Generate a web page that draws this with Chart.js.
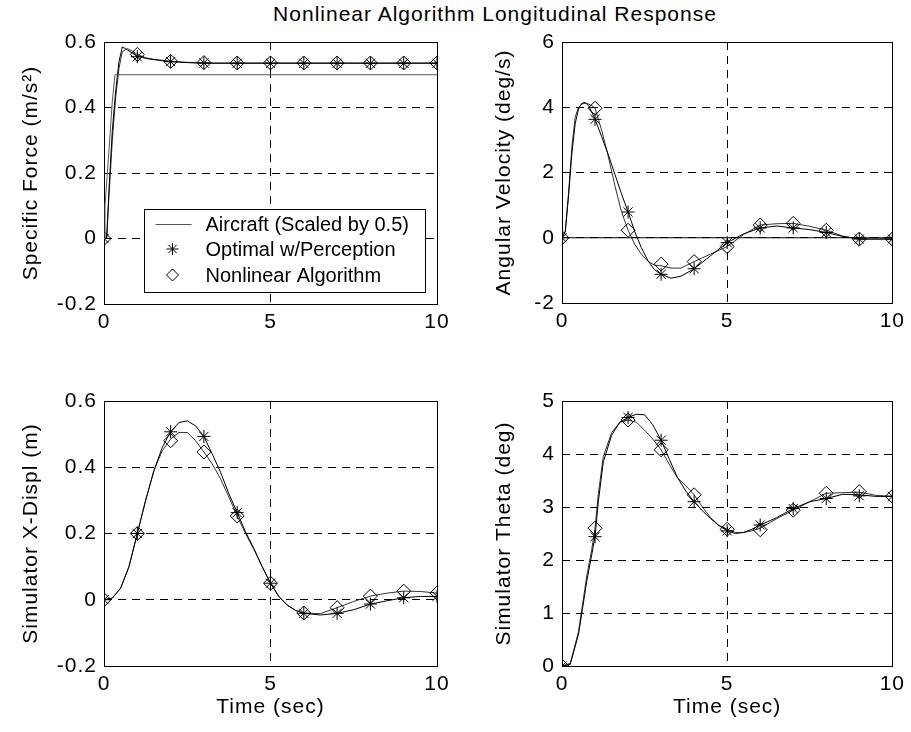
<!DOCTYPE html>
<html>
<head>
<meta charset="utf-8">
<script src="https://cdn.jsdelivr.net/npm/chart.js@4.4.1/dist/chart.umd.min.js"></script>
<style>
  html, body { margin: 0; padding: 0; background: #fff; overflow: hidden; }
  #wrap { position: relative; width: 911px; height: 732px; }
  #wrap canvas { position: absolute; left: 0; top: 0; }
  #title { position: absolute; top: 2px; left: 495px; transform: translateX(-50%); white-space: nowrap;
           font: 21px 'Liberation Sans', Arial, sans-serif; letter-spacing: 1px; line-height: 24px; color: #000; }
</style>
</head>
<body>
<div id="wrap">
  <div id="title">Nonlinear Algorithm Longitudinal Response</div>
  <canvas id="tl" width="911" height="732"></canvas>
  <canvas id="tr" width="911" height="732"></canvas>
  <canvas id="bl" width="911" height="732"></canvas>
  <canvas id="br" width="911" height="732"></canvas>
</div>
<script>
// sample times of the marker series (one marker per second)
const markT = [0, 1, 2, 3, 4, 5, 6, 7, 8, 9, 10];
const xTicks = [0, 5, 10];

const seriesNames = ['Aircraft (Scaled by 0.5)', 'Optimal w/Perception', 'Nonlinear Algorithm'];

// Specific force
const tlYTicks = [-0.2, 0, 0.2, 0.4, 0.6];
const acT = [0, 0.03, 0.15, 0.25, 0.33, 10];
const acForce = [0, 0.1, 0.27, 0.42, 0.5, 0.5];
const tlT = [0, 0.08, 0.15, 0.25, 0.35, 0.45, 0.55, 0.7, 0.85, 1, 1.25, 1.5, 2, 2.5, 3, 4, 5, 6, 7, 8, 9, 10];
const tlOpt = [0, 0.0, 0.15, 0.33, 0.45, 0.54, 0.585, 0.576, 0.566, 0.556, 0.55, 0.546, 0.54, 0.537, 0.535, 0.535, 0.535, 0.535, 0.535, 0.535, 0.535, 0.535];
const tlNon = [0, 0.0, 0.13, 0.3, 0.43, 0.52, 0.57, 0.58, 0.572, 0.562, 0.552, 0.547, 0.541, 0.538, 0.536, 0.536, 0.536, 0.536, 0.536, 0.536, 0.536, 0.536];
const tlOptMarks = [0, 0.555, 0.54, 0.536, 0.535, 0.535, 0.535, 0.535, 0.535, 0.535, 0.535];
const tlNonMarks = [0, 0.562, 0.541, 0.537, 0.536, 0.536, 0.536, 0.536, 0.536, 0.536, 0.536];

// Angular velocity
const trYTicks = [-2, 0, 2, 4, 6];
const acRateT = [0, 10];
const acRate = [0, 0];
const trT = [0, 0.1, 0.2, 0.3, 0.4, 0.5, 0.6, 0.7, 0.8, 0.9, 1, 1.2, 1.4, 1.6, 1.8, 2, 2.2, 2.4, 2.6, 2.8, 3, 3.3, 3.6, 4, 4.5, 5, 5.5, 6, 6.5, 7, 7.5, 8, 8.5, 9, 10];
const trOpt = [0, 0.2, 1.3, 2.6, 3.5, 3.95, 4.12, 4.15, 4.05, 3.85, 3.63, 3.1, 2.55, 1.95, 1.35, 0.79, 0.2, -0.3, -0.7, -0.98, -1.12, -1.24, -1.18, -0.95, -0.55, -0.15, 0.12, 0.3, 0.36, 0.3, 0.25, 0.16, 0.04, -0.04, -0.04];
const trNon = [0, 0.2, 1.4, 2.8, 3.7, 4.0, 4.1, 4.12, 4.1, 4.05, 3.97, 3.3, 2.5, 1.6, 0.8, 0.23, -0.2, -0.5, -0.72, -0.84, -0.86, -0.93, -0.93, -0.73, -0.5, -0.27, 0.1, 0.39, 0.43, 0.44, 0.35, 0.23, 0.05, -0.04, -0.04];
const trOptMarks = [0, 3.63, 0.79, -1.12, -0.95, -0.15, 0.3, 0.3, 0.16, -0.04, -0.04];
const trNonMarks = [0, 3.97, 0.23, -0.81, -0.73, -0.27, 0.39, 0.44, 0.23, -0.04, -0.04];

// Simulator X displacement
const blYTicks = [-0.2, 0, 0.2, 0.4, 0.6];
const blT = [0, 0.25, 0.5, 0.75, 1, 1.25, 1.5, 1.75, 2, 2.25, 2.5, 2.75, 3, 3.25, 3.5, 3.75, 4, 4.25, 4.5, 4.75, 5, 5.25, 5.5, 5.75, 6, 6.5, 7, 7.5, 8, 8.5, 9, 9.5, 10];
const blOpt = [0, 0.005, 0.035, 0.1, 0.2, 0.3, 0.39, 0.46, 0.507, 0.535, 0.54, 0.525, 0.493, 0.44, 0.385, 0.32, 0.263, 0.205, 0.155, 0.1, 0.05, 0.01, -0.016, -0.032, -0.041, -0.046, -0.041, -0.03, -0.013, -0.003, 0.006, 0.01, 0.01];
const blNon = [0, 0.005, 0.035, 0.1, 0.2, 0.3, 0.39, 0.45, 0.485, 0.505, 0.505, 0.48, 0.446, 0.41, 0.365, 0.31, 0.253, 0.2, 0.152, 0.1, 0.05, 0.01, -0.016, -0.032, -0.04, -0.042, -0.024, -0.005, 0.011, 0.02, 0.026, 0.025, 0.02];
const blOptMarks = [0, 0.2, 0.507, 0.493, 0.263, 0.05, -0.041, -0.041, -0.013, 0.006, 0.01];
const blNonMarks = [0, 0.2, 0.48, 0.446, 0.253, 0.05, -0.04, -0.024, 0.011, 0.026, 0.02];

// Simulator theta
const brYTicks = [0, 1, 2, 3, 4, 5];
const brT = [0, 0.25, 0.5, 0.75, 0.9, 1, 1.1, 1.25, 1.5, 1.75, 2, 2.25, 2.5, 2.75, 3, 3.25, 3.5, 3.75, 4, 4.25, 4.5, 4.75, 5, 5.25, 5.5, 5.75, 6, 6.5, 7, 7.5, 8, 8.5, 9, 9.5, 10];
const brOpt = [0, 0.03, 0.6, 1.6, 2.1, 2.44, 3.1, 3.85, 4.35, 4.6, 4.69, 4.75, 4.74, 4.55, 4.26, 3.9, 3.55, 3.3, 3.1, 2.93, 2.78, 2.65, 2.55, 2.5, 2.52, 2.58, 2.66, 2.8, 2.97, 3.1, 3.16, 3.24, 3.23, 3.2, 3.2];
const brNon = [0, 0.05, 0.65, 1.7, 2.2, 2.6, 3.25, 3.95, 4.4, 4.6, 4.64, 4.6, 4.45, 4.28, 4.08, 3.8, 3.55, 3.4, 3.23, 3.0, 2.8, 2.65, 2.58, 2.52, 2.52, 2.55, 2.6, 2.78, 2.94, 3.1, 3.26, 3.27, 3.28, 3.22, 3.2];
const brOptMarks = [0, 2.44, 4.69, 4.26, 3.1, 2.55, 2.66, 2.97, 3.16, 3.21, 3.2];
const brNonMarks = [0, 2.6, 4.64, 4.08, 3.23, 2.58, 2.57, 2.94, 3.26, 3.29, 3.2];

const FONT = "'Liberation Sans', Arial, Helvetica, sans-serif";

function pts(t, v) {
    return t.map((x, i) => ({x: x, y: v[i]}));
}

function lineSet(label, t, v, color) {
    return {label: label, data: pts(t, v), borderColor: color, borderWidth: 1,
            pointRadius: 0, fill: false, showLine: true};
}

function markSet(label, v, style) {
    return {label: label, data: pts(markT, v), showLine: false, pointStyle: style,
            pointRadius: style === 'star' ? 6.5 : 7, pointBorderColor: '#000',
            pointBackgroundColor: 'rgba(0,0,0,0)', pointBorderWidth: 1, borderColor: '#000'};
}

// hide grid lines that fall on the frame
function inner(min, max) {
    return c => (c.tick && (Math.abs(c.tick.value - min) < 1e-9 || Math.abs(c.tick.value - max) < 1e-9)) ? 0 : 1;
}

const spacing = {
    id: 'spacing',
    beforeLayout(chart) { chart.ctx.letterSpacing = '1px'; },
    beforeDraw(chart) { chart.ctx.letterSpacing = '1px'; }
};

const frame = {
    id: 'frame',
    beforeDatasetsDraw(chart) {
        const {ctx, chartArea: a} = chart;
        ctx.save();
        ctx.strokeStyle = '#000';
        ctx.lineWidth = 1;
        ctx.strokeRect(Math.round(a.left) + 0.5, Math.round(a.top) + 0.5,
                       Math.round(a.right - a.left), Math.round(a.bottom - a.top));
        ctx.restore();
    }
};

function drawMarker(ctx, style, x, y, r) {
    ctx.beginPath();
    if (style === 'star') {
        const d = r * Math.SQRT1_2;
        ctx.moveTo(x, y - r); ctx.lineTo(x, y + r);
        ctx.moveTo(x - r, y); ctx.lineTo(x + r, y);
        ctx.moveTo(x - d, y - d); ctx.lineTo(x + d, y + d);
        ctx.moveTo(x - d, y + d); ctx.lineTo(x + d, y - d);
    } else {
        ctx.moveTo(x, y - r); ctx.lineTo(x + r, y); ctx.lineTo(x, y + r); ctx.lineTo(x - r, y);
        ctx.closePath();
    }
    ctx.stroke();
}

const boxLegend = {
    id: 'boxLegend',
    afterDraw(chart) {
        const {ctx, chartArea: a} = chart;
        const items = chart.data.datasets.slice(0, 3);
        ctx.save();
        ctx.letterSpacing = '0px';
        ctx.font = '20px ' + FONT;
        const textW = Math.max(...items.map(d => ctx.measureText(d.label).width));
        const w = Math.round(61 + textW + 17), h = 83;
        const x0 = Math.round(a.right - 12 - w) + 0.5, y0 = Math.round(a.bottom - 12 - h) + 0.5;
        ctx.fillStyle = '#fff';
        ctx.fillRect(x0, y0, w, h);
        ctx.strokeStyle = '#000';
        ctx.lineWidth = 1;
        ctx.strokeRect(x0, y0, w, h);
        items.forEach((d, i) => {
            const y = Math.round(y0 + 14 + i * 25.5);
            if (d.showLine) {
                ctx.strokeStyle = d.borderColor;
                ctx.beginPath();
                ctx.moveTo(x0 + 11, y + 0.5);
                ctx.lineTo(x0 + 47, y + 0.5);
                ctx.stroke();
            } else {
                ctx.strokeStyle = '#000';
                drawMarker(ctx, d.pointStyle, x0 + 28, y, 6);
            }
            ctx.fillStyle = '#000';
            ctx.textBaseline = 'middle';
            ctx.fillText(d.label, x0 + 61, y + 1);
        });
        ctx.restore();
    }
};

function makeChart(id, pad, yW, xH, yMin, yMax, yTicks, yTitle, yTitlePad, xTitle, datasets, extra) {
    const font = {family: FONT, size: 21};
    return new Chart(document.getElementById(id), {
        type: 'line',
        data: {datasets: datasets},
        options: {
            responsive: false,
            animation: false,
            events: [],
            layout: {padding: pad},
            plugins: {legend: {display: false}, tooltip: {enabled: false}},
            scales: {
                x: {
                    type: 'linear', min: 0, max: 10,
                    afterBuildTicks: s => { s.ticks = xTicks.map(v => ({value: v})); },
                    afterFit: s => { s.height = xH; },
                    ticks: {color: '#000', font: font, padding: 6, maxRotation: 0, autoSkip: false,
                            callback: v => String(v)},
                    grid: {color: '#000', lineWidth: inner(0, 10), drawTicks: false, borderDash: [8, 6]},
                    border: {display: false, dash: [8, 6]},
                    title: {display: !!xTitle, text: xTitle, color: '#000', font: font,
                            padding: {top: 0, bottom: 6}}
                },
                y: {
                    type: 'linear', min: yMin, max: yMax,
                    afterBuildTicks: s => { s.ticks = yTicks.map(v => ({value: v})); },
                    afterFit: s => { s.width = yW; },
                    ticks: {color: '#000', font: font, padding: 7, callback: v => String(v)},
                    grid: {color: '#000', lineWidth: inner(yMin, yMax), drawTicks: false, borderDash: [8, 6]},
                    border: {display: false, dash: [8, 6]},
                    title: {display: true, text: yTitle, color: '#000', font: font,
                            padding: {top: yTitlePad, bottom: 0}}
                }
            }
        },
        plugins: [spacing, frame].concat(extra || [])
    });
}

makeChart('tl', {left: 0, top: 42, right: 474, bottom: 388}, 104, 40,
    -0.2, 0.6, tlYTicks, 'Specific Force (m/s²)', 19, '', [
        lineSet(seriesNames[0], acT, acForce, '#555'),
        markSet(seriesNames[1], tlOptMarks, 'star'),
        markSet(seriesNames[2], tlNonMarks, 'rectRot'),
        lineSet('opt', tlT, tlOpt, '#000'),
        lineSet('non', tlT, tlNon, '#333')
    ], [boxLegend]);

makeChart('tr', {left: 455, top: 42, right: 15, bottom: 389}, 107, 40,
    -2, 6, trYTicks, 'Angular Velocity (deg/s)', 37, '', [
        lineSet(seriesNames[0], acRateT, acRate, '#000'),
        markSet(seriesNames[1], trOptMarks, 'star'),
        markSet(seriesNames[2], trNonMarks, 'rectRot'),
        lineSet('opt', trT, trOpt, '#000'),
        lineSet('non', trT, trNon, '#333')
    ]);

makeChart('bl', {left: 0, top: 401, right: 474, bottom: 6}, 104, 60,
    -0.2, 0.6, blYTicks, 'Simulator X-Displ (m)', 19, 'Time (sec)', [
        markSet(seriesNames[1], blOptMarks, 'star'),
        markSet(seriesNames[2], blNonMarks, 'rectRot'),
        lineSet('opt', blT, blOpt, '#000'),
        lineSet('non', blT, blNon, '#333')
    ]);

makeChart('br', {left: 455, top: 401, right: 15, bottom: 6}, 107, 60,
    0, 5, brYTicks, 'Simulator Theta (deg)', 37, 'Time (sec)', [
        markSet(seriesNames[1], brOptMarks, 'star'),
        markSet(seriesNames[2], brNonMarks, 'rectRot'),
        lineSet('opt', brT, brOpt, '#000'),
        lineSet('non', brT, brNon, '#333')
    ]);
</script>
</body>
</html>
